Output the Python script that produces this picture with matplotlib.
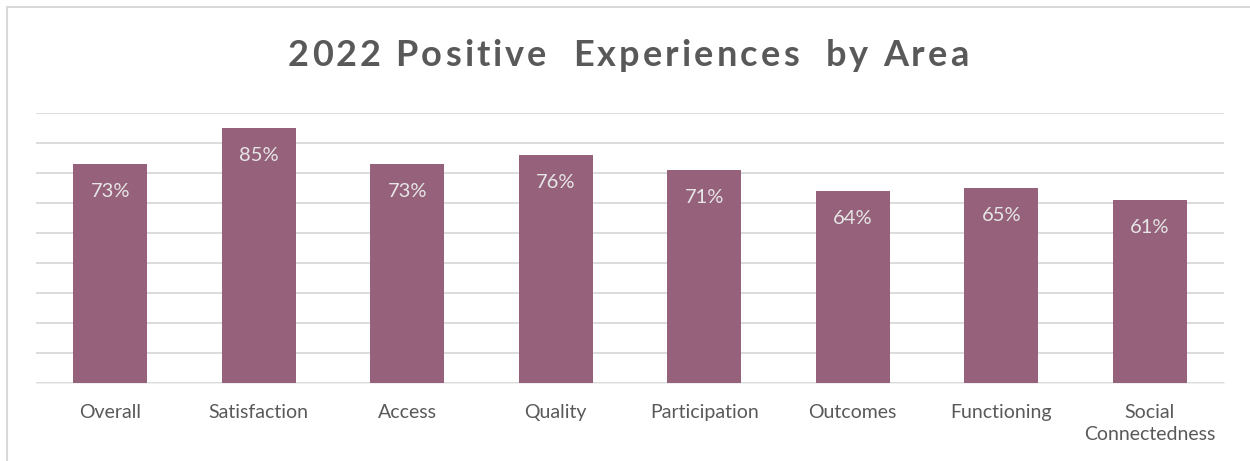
import matplotlib.pyplot as plt
from matplotlib.patches import Rectangle

# chart data
areas = ["Overall", "Satisfaction", "Access", "Quality", "Participation",
         "Outcomes", "Functioning", "Social\nConnectedness"]
positive = [73, 85, 73, 76, 71, 64, 65, 61]
title = "2022 Positive  Experiences  by Area"

BAR_COLOR = "#96627B"
TEXT_COLOR = "#595959"
GRID_COLOR = "#D9D9D9"


def spaced_title(fig, s, xc, y, tracking, **kw):
    # matplotlib has no letter spacing, so place the characters one by one
    r = fig.canvas.get_renderer()
    W = fig.bbox.width

    def width(t):
        if not t:
            return 0
        tt = fig.text(0, 0, t, **kw)
        w = tt.get_window_extent(r).width
        tt.remove()
        return w

    total = width(s) + tracking * (len(s) - 1)
    x0 = xc * W - total / 2
    for i, ch in enumerate(s):
        if ch == " ":
            continue
        xr = x0 + width(s[:i + 1]) + tracking * i
        fig.text(xr / W, y, ch, ha="right", va="center", **kw)


def main():
    plt.rcParams['font.family'] = ['Lato', 'DejaVu Sans']
    fig = plt.figure(figsize=(12.5, 4.61), dpi=100)
    ax = fig.add_axes([0.0288, 0.1692, 0.9504, 0.5857])

    xs = range(len(areas))
    bars = ax.bar(xs, positive, width=0.5, color=BAR_COLOR, zorder=3)

    # value labels inside the top of each bar
    for b, v in zip(bars, positive):
        ax.annotate(f"{v}%", (b.get_x() + b.get_width() / 2, v),
                    xytext=(0, -20), textcoords="offset points",
                    ha="center", va="center", color="#E6E6E6", fontsize=14.5)

    ax.set_xlim(-0.5, len(areas) - 0.5)
    ax.set_ylim(0, 90)
    ax.set_yticks(range(0, 91, 10))
    ax.yaxis.grid(True, color=GRID_COLOR, linewidth=1.3, zorder=0)
    ax.tick_params(axis="y", left=False, labelleft=False)
    ax.tick_params(axis="x", length=0, pad=15, labelsize=14, labelcolor=TEXT_COLOR)
    ax.set_xticks(list(xs))
    ax.set_xticklabels(areas, linespacing=1.35)
    for s in ["top", "right", "left"]:
        ax.spines[s].set_visible(False)
    ax.spines["bottom"].set_color("#EFEFEF")

    spaced_title(fig, title, 0.5025, 0.879, 3.1, fontsize=26,
                 fontweight="bold", color=TEXT_COLOR)

    # chart border
    fig.patches.append(Rectangle((7 / 1250, -0.1), 1.2, 1 - 7 / 461 + 0.1,
                                 transform=fig.transFigure, fill=False,
                                 edgecolor=GRID_COLOR, linewidth=1.5))

    fig.savefig("out.png", dpi=100)


if __name__ == "__main__":
    main()
